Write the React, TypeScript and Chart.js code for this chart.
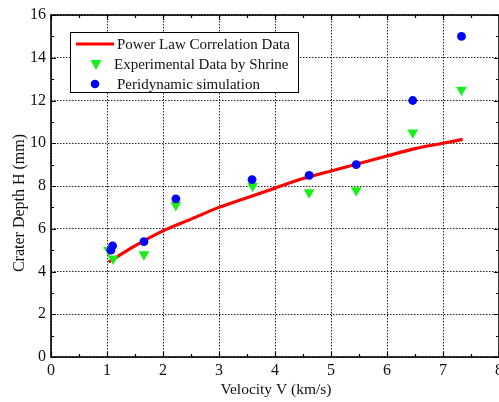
import React, { useEffect, useRef } from "react";
import { Chart, registerables } from "chart.js";

Chart.register(...registerables);

// Power-law correlation curve (velocity km/s -> crater depth mm)
const powerLawV = [1.03, 1.5, 2, 2.5, 3, 3.5, 4, 4.5, 5, 5.5, 6, 6.5, 7, 7.35];
const powerLawH = [4.45, 5.2, 5.9, 6.45, 7.0, 7.45, 7.9, 8.35, 8.7, 9.05, 9.4, 9.75, 10.0, 10.18];

// Experimental data by Shrine
const expV = [1.03, 1.11, 1.66, 2.23, 3.6, 4.61, 5.45, 6.46, 7.33];
const expH = [5.0, 4.6, 4.8, 7.1, 8.0, 7.7, 7.8, 10.5, 12.5];

// Peridynamic simulation results
const pdV = [1.07, 1.1, 1.66, 2.23, 3.59, 4.61, 5.45, 6.46, 7.33];
const pdH = [5.0, 5.2, 5.4, 7.4, 8.3, 8.5, 9.0, 12.0, 15.0];

const xTicks = [0, 1, 2, 3, 4, 5, 6, 7, 8];
const yTicks = [0, 2, 4, 6, 8, 10, 12, 14, 16];

const legendLabels = [
  "Power Law Correlation Data",
  "Experimental Data by Shrine",
  "Peridynamic simulation",
];
const xTitle = "Velocity V (km/s)";
const yTitle = "Crater Depth H (mm)";

const SERIF = "'Liberation Serif', 'Times New Roman', serif";
const RED = "#ff0000";
const GREEN = "#19f019";
const BLUE = "#0000ff";

const pairs = (xs: number[], ys: number[]) => xs.map((x, i) => ({ x, y: ys[i] }));

// Frame with inward ticks, axis titles and the boxed legend
const framePlugin = {
  id: "originFrame",
  afterDraw(chart: any) {
    const { ctx, chartArea: a, scales } = chart;
    const xs = scales.x;
    const ys = scales.y;
    ctx.save();
    ctx.strokeStyle = "#000";
    ctx.lineWidth = 1.6;
    ctx.setLineDash([]);
    ctx.strokeRect(a.left, a.top, a.right - a.left, a.bottom - a.top);

    ctx.lineWidth = 1.2;
    const major = 5;
    const minor = 3;
    // x ticks (bottom and top), minor every 0.5
    for (let v = 0; v <= 8.001; v += 0.5) {
      const px = Math.round(xs.getPixelForValue(v)) + 0.5;
      const len = Math.abs(v - Math.round(v)) < 1e-6 ? major : minor;
      ctx.beginPath();
      ctx.moveTo(px, a.bottom);
      ctx.lineTo(px, a.bottom - len);
      ctx.moveTo(px, a.top);
      ctx.lineTo(px, a.top + len);
      ctx.stroke();
    }
    // y ticks (left and right), minor every 1
    for (let v = 0; v <= 16.001; v += 1) {
      const py = Math.round(ys.getPixelForValue(v)) + 0.5;
      const len = v % 2 === 0 ? major : minor;
      ctx.beginPath();
      ctx.moveTo(a.left, py);
      ctx.lineTo(a.left + len, py);
      ctx.moveTo(a.right, py);
      ctx.lineTo(a.right - len, py);
      ctx.stroke();
    }

    // axis titles
    ctx.fillStyle = "#111";
    ctx.font = `15.5px ${SERIF}`;
    ctx.textAlign = "center";
    ctx.textBaseline = "alphabetic";
    ctx.fillText(xTitle, 276, 394);
    ctx.save();
    ctx.translate(24, 203);
    ctx.rotate(-Math.PI / 2);
    ctx.font = `16px ${SERIF}`;
    ctx.fillText(yTitle, 0, 0);
    ctx.restore();

    // legend
    const bx = 70.5, by = 32.5, bw = 228, bh = 60;
    ctx.fillStyle = "#fff";
    ctx.fillRect(bx, by, bw, bh);
    ctx.strokeStyle = "#000";
    ctx.lineWidth = 1;
    ctx.strokeRect(bx, by, bw, bh);

    ctx.strokeStyle = RED;
    ctx.lineWidth = 3;
    ctx.beginPath();
    ctx.moveTo(76, 44);
    ctx.lineTo(114, 44);
    ctx.stroke();

    ctx.fillStyle = GREEN;
    ctx.beginPath();
    ctx.moveTo(90.5, 60);
    ctx.lineTo(101.5, 60);
    ctx.lineTo(96, 70);
    ctx.closePath();
    ctx.fill();

    ctx.fillStyle = BLUE;
    ctx.beginPath();
    ctx.arc(95, 84, 4.3, 0, Math.PI * 2);
    ctx.fill();

    ctx.fillStyle = "#111";
    ctx.font = `15px ${SERIF}`;
    ctx.textAlign = "left";
    ctx.fillText(legendLabels[0], 117, 48.5);
    ctx.fillText(legendLabels[1], 114, 69);
    ctx.fillText(legendLabels[2], 117, 89);
    ctx.restore();
  },
};

export default function App() {
  const canvasRef = useRef<HTMLCanvasElement | null>(null);

  useEffect(() => {
    const canvas = canvasRef.current;
    if (!canvas) return;
    const chart = new Chart(canvas, {
      type: "scatter",
      data: {
        datasets: [
          {
            type: "line",
            label: legendLabels[0],
            data: pairs(powerLawV, powerLawH),
            borderColor: RED,
            borderWidth: 3.2,
            pointRadius: 0,
            tension: 0.3,
            fill: false,
            order: 3,
          } as any,
          {
            label: legendLabels[1],
            data: pairs(expV, expH),
            pointStyle: "triangle",
            rotation: 180,
            pointRadius: 6.3,
            backgroundColor: GREEN,
            borderColor: GREEN,
            borderWidth: 0,
            order: 2,
          },
          {
            label: legendLabels[2],
            data: pairs(pdV, pdH),
            pointStyle: "circle",
            pointRadius: 4.4,
            backgroundColor: BLUE,
            borderColor: BLUE,
            borderWidth: 0,
            order: 1,
          },
        ],
      },
      options: {
        responsive: false,
        animation: false,
        devicePixelRatio: 1,
        layout: { padding: { left: 0, right: 11, top: 15, bottom: 0 } },
        plugins: {
          legend: { display: false },
          tooltip: { enabled: false },
        },
        scales: {
          x: {
            type: "linear",
            min: 0,
            max: 8,
            afterBuildTicks: (s: any) => {
              s.ticks = xTicks.map((v) => ({ value: v }));
            },
            afterFit: (s: any) => {
              s.height = 45;
            },
            ticks: {
              font: { family: SERIF, size: 16 },
              color: "#111",
              padding: 4,
              maxRotation: 0,
              autoSkip: false,
            },
            grid: {
              color: "#222",
              lineWidth: 1,
              drawTicks: false,
            },
            border: { display: false, dash: [1.5, 1.5] },
          },
          y: {
            type: "linear",
            min: 0,
            max: 16,
            afterBuildTicks: (s: any) => {
              s.ticks = yTicks.map((v) => ({ value: v }));
            },
            afterFit: (s: any) => {
              s.width = 51;
            },
            ticks: {
              font: { family: SERIF, size: 16 },
              color: "#111",
              padding: 5,
              autoSkip: false,
            },
            grid: {
              color: "#222",
              lineWidth: 1,
              drawTicks: false,
            },
            border: { display: false, dash: [1.5, 1.5] },
          },
        },
      },
      plugins: [framePlugin],
    });
    return () => chart.destroy();
  }, []);

  return (
    <div
      style={{
        position: "fixed",
        left: 0,
        top: 0,
        width: 499,
        height: 402,
        overflow: "hidden",
        background: "#fff",
      }}
    >
      <canvas ref={canvasRef} width={510} height={402} style={{ display: "block" }} />
    </div>
  );
}
